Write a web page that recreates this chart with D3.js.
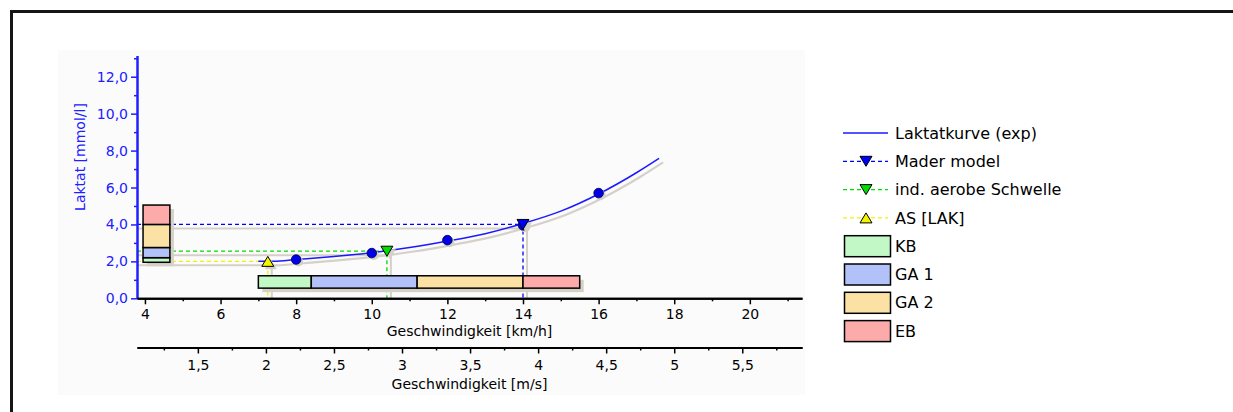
<!DOCTYPE html>
<html>
<head>
<meta charset="utf-8">
<script src="https://cdn.jsdelivr.net/npm/d3@7"></script>
<style>
  body { margin: 0; background: #fff; }
  svg { display: block; }
  text { font-family: "DejaVu Sans", sans-serif; }
</style>
</head>
<body>
<svg width="1233" height="412"></svg>
<script>
// measured lactate values (km/h, mmol/l)
var pointSpeed = [8, 10, 12, 14, 16];
var pointLactate = [2.1, 2.45, 3.15, 3.95, 5.7];

// fitted curve
var curveSpeed = [7.0, 7.4, 8, 9, 10, 11, 12, 13, 14, 15, 16, 17, 17.6];
var curveLactate = [2.0, 2.0, 2.1, 2.27, 2.47, 2.75, 3.1, 3.5, 4.05, 4.72, 5.65, 6.8, 7.58];

// thresholds
var thresholdNames = ["Mader model", "ind. aerobe Schwelle", "AS [LAK]"];
var thresholdSpeed = [14.0, 10.4, 7.25];
var thresholdLactate = [4.0, 2.55, 2.0];

// training zones
var zoneNames = ["KB", "GA 1", "GA 2", "EB"];
var zoneSpeedFrom = [7.0, 8.4, 11.2, 14.0];
var zoneSpeedTo = [8.4, 11.2, 14.0, 15.5];
var zoneLactateFrom = [1.95, 2.2, 2.75, 4.0];
var zoneLactateTo = [2.2, 2.75, 4.0, 5.05];

// ticks
var lactateTicks = [0, 2, 4, 6, 8, 10, 12];
var lactateMinor = [1, 3, 5, 7, 9, 11, 13];
var kmhTicks = [4, 6, 8, 10, 12, 14, 16, 18, 20];
var kmhMinor = [5, 7, 9, 11, 13, 15, 17, 19, 21];
var msTicks = [1.5, 2, 2.5, 3, 3.5, 4, 4.5, 5, 5.5];
var msMinor = [1.25, 1.75, 2.25, 2.75, 3.25, 3.75, 4.25, 4.75, 5.25, 5.75];

var zoneColors = ["#c2f8c6", "#b2c2f8", "#fce1a4", "#fcaaaa"];
var thresholdColors = ["#0000ff", "#00dd00", "#f4f400"];
var thresholdDown = [true, true, false];
var shadow = "#d5d1c9";

var svg = d3.select("svg");

// outer frame, only top and left edges are inside the picture
svg.append("path")
    .attr("d", "M11.5,412V11.5H1233")
    .attr("fill", "none")
    .attr("stroke", "#151515")
    .attr("stroke-width", 3);

svg.append("rect")
    .attr("x", 58).attr("y", 50)
    .attr("width", 747).attr("height", 345)
    .attr("fill", "#fbfbfb");

var x = d3.scaleLinear().domain([3.79, 21.38]).range([137, 802]);
var xms = d3.scaleLinear().domain([3.79 / 3.6, 21.38 / 3.6]).range([137, 802]);
var y = d3.scaleLinear().domain([0, 13.15]).range([298.3, 55.5]);

var loc = d3.formatLocale({decimal: ",", thousands: ".", grouping: [3], currency: ["", "€"]});
var f1 = loc.format(".1f");
var fms = function(d) { return String(d).replace(".", ","); };

var g = svg.append("g");

// threshold shadows + dashed lines
thresholdNames.forEach(function(name, i) {
  var sx = x(thresholdSpeed[i]), sy = y(thresholdLactate[i]);
  g.append("path")
      .attr("d", "M" + x.range()[0] + "," + (sy + 4) + "H" + (sx + 4) + "V" + y(0))
      .attr("fill", "none").attr("stroke", shadow).attr("stroke-width", 2);
});
thresholdNames.forEach(function(name, i) {
  var sx = x(thresholdSpeed[i]), sy = y(thresholdLactate[i]);
  g.append("path")
      .attr("d", "M" + x.range()[0] + "," + sy + "H" + sx + "V" + y(0))
      .attr("fill", "none")
      .attr("stroke", thresholdColors[i])
      .attr("stroke-width", 1.3)
      .attr("stroke-dasharray", "4,3");
});

// lactate curve with its shadow
var curveData = curveSpeed.map(function(s, i) { return [s, curveLactate[i]]; });
var line = d3.line()
    .x(function(d) { return x(d[0]); })
    .y(function(d) { return y(d[1]); })
    .curve(d3.curveMonotoneX);

g.append("path").datum(curveData)
    .attr("d", line)
    .attr("transform", "translate(4,4)")
    .attr("fill", "none").attr("stroke", shadow).attr("stroke-width", 2.2);
g.append("path").datum(curveData)
    .attr("d", line)
    .attr("fill", "none").attr("stroke", "#1a1aff").attr("stroke-width", 1.5);

// horizontal zone bar (speed)
var barTop = y(1.22), barBottom = y(0.55);
g.append("rect")
    .attr("x", x(zoneSpeedFrom[0]) + 4).attr("y", barTop + 4)
    .attr("width", x(zoneSpeedTo[3]) - x(zoneSpeedFrom[0]))
    .attr("height", barBottom - barTop)
    .attr("fill", shadow);
g.selectAll(".hzone")
    .data(zoneNames)
    .enter().append("rect")
      .attr("x", function(d, i) { return x(zoneSpeedFrom[i]); })
      .attr("y", barTop)
      .attr("width", function(d, i) { return x(zoneSpeedTo[i]) - x(zoneSpeedFrom[i]); })
      .attr("height", barBottom - barTop)
      .attr("fill", function(d, i) { return zoneColors[i]; })
      .attr("stroke", "#000").attr("stroke-width", 1.5);

// vertical zone bar (lactate)
var vbLeft = x(3.95), vbRight = x(4.66);
g.append("rect")
    .attr("x", vbLeft + 4).attr("y", y(zoneLactateTo[3]) + 4)
    .attr("width", vbRight - vbLeft)
    .attr("height", y(zoneLactateFrom[0]) - y(zoneLactateTo[3]))
    .attr("fill", shadow);
g.selectAll(".vzone")
    .data(zoneNames)
    .enter().append("rect")
      .attr("x", vbLeft)
      .attr("y", function(d, i) { return y(zoneLactateTo[i]); })
      .attr("width", vbRight - vbLeft)
      .attr("height", function(d, i) { return y(zoneLactateFrom[i]) - y(zoneLactateTo[i]); })
      .attr("fill", function(d, i) { return zoneColors[i]; })
      .attr("stroke", "#000").attr("stroke-width", 1.5);

// measured points
pointSpeed.forEach(function(s, i) {
  g.append("circle")
      .attr("cx", x(s) + 2).attr("cy", y(pointLactate[i]) + 2).attr("r", 5)
      .attr("fill", shadow);
});
g.selectAll(".pt")
    .data(pointSpeed)
    .enter().append("circle")
      .attr("cx", function(d) { return x(d); })
      .attr("cy", function(d, i) { return y(pointLactate[i]); })
      .attr("r", 4.8)
      .attr("fill", "#0000e6")
      .attr("stroke", "#000050").attr("stroke-width", 0.8);

function tri(down) {
  return down ? "M-6,-5L6,-5L0,5Z" : "M0,-5L6,5L-6,5Z";
}

// threshold markers
thresholdNames.forEach(function(name, i) {
  var sx = x(thresholdSpeed[i]), sy = y(thresholdLactate[i]);
  g.append("path").attr("d", tri(thresholdDown[i]))
      .attr("transform", "translate(" + (sx + 3) + "," + (sy + 3) + ")")
      .attr("fill", shadow);
  g.append("path").attr("d", tri(thresholdDown[i]))
      .attr("transform", "translate(" + sx + "," + sy + ")")
      .attr("fill", thresholdColors[i])
      .attr("stroke", "#000").attr("stroke-width", 1);
});

// axes
function styleAxis(sel, color) {
  sel.select(".domain").attr("stroke", color).attr("stroke-width", 2);
  sel.selectAll(".tick line").attr("stroke", color).attr("stroke-width", 1.5);
  sel.selectAll("text").attr("fill", color).attr("font-size", 14)
      .attr("font-family", "DejaVu Sans, sans-serif");
}

var yAxis = svg.append("g").attr("transform", "translate(137,0)")
    .call(d3.axisLeft(y).tickValues(lactateTicks).tickFormat(f1).tickSize(6).tickSizeOuter(0).tickPadding(3));
styleAxis(yAxis, "#2020ff");
var yMinor = svg.append("g").attr("transform", "translate(137,0)")
    .call(d3.axisLeft(y).tickValues(lactateMinor).tickFormat("").tickSize(3).tickSizeOuter(0));
styleAxis(yMinor, "#2020ff");

var xAxis = svg.append("g").attr("transform", "translate(0,298.3)")
    .call(d3.axisBottom(x).tickValues(kmhTicks).tickFormat(d3.format("d")).tickSize(6).tickSizeOuter(0).tickPadding(5));
styleAxis(xAxis, "#000");
var xMinor = svg.append("g").attr("transform", "translate(0,298.3)")
    .call(d3.axisBottom(x).tickValues(kmhMinor).tickFormat("").tickSize(3).tickSizeOuter(0));
styleAxis(xMinor, "#000");

var msAxis = svg.append("g").attr("transform", "translate(0,347.5)")
    .call(d3.axisBottom(xms).tickValues(msTicks).tickFormat(fms).tickSize(6).tickSizeOuter(0).tickPadding(7));
styleAxis(msAxis, "#000");
var msMinorAxis = svg.append("g").attr("transform", "translate(0,347.5)")
    .call(d3.axisBottom(xms).tickValues(msMinor).tickFormat("").tickSize(3).tickSizeOuter(0));
styleAxis(msMinorAxis, "#000");

// axis titles
svg.append("text")
    .attr("x", 469.5).attr("y", 331).attr("dy", "0.35em")
    .attr("text-anchor", "middle").attr("font-size", 14)
    .text("Geschwindigkeit [km/h]");
svg.append("text")
    .attr("x", 469.5).attr("y", 384).attr("dy", "0.35em")
    .attr("text-anchor", "middle").attr("font-size", 14)
    .text("Geschwindigkeit [m/s]");
svg.append("text")
    .attr("transform", "translate(80,157) rotate(-90)")
    .attr("dy", "0.35em")
    .attr("text-anchor", "middle").attr("font-size", 14)
    .attr("fill", "#2020ff")
    .text("Laktat [mmol/l]");

// legend
var legend = svg.append("g").attr("font-size", 16);
var rowY = function(i) { return 133 + i * 28.3; };

legend.append("line")
    .attr("x1", 843).attr("x2", 888).attr("y1", rowY(0)).attr("y2", rowY(0))
    .attr("stroke", "#1a1aff").attr("stroke-width", 1.5);
legend.append("text").attr("x", 895).attr("y", rowY(0)).attr("dy", "0.35em")
    .text("Laktatkurve (exp)");

thresholdNames.forEach(function(name, i) {
  var ry = rowY(i + 1);
  legend.append("line")
      .attr("x1", 843).attr("x2", 888).attr("y1", ry).attr("y2", ry)
      .attr("stroke", thresholdColors[i]).attr("stroke-width", 1.3)
      .attr("stroke-dasharray", "4,3");
  legend.append("path").attr("d", tri(thresholdDown[i]))
      .attr("transform", "translate(866," + ry + ")")
      .attr("fill", thresholdColors[i])
      .attr("stroke", "#000").attr("stroke-width", 1);
  legend.append("text").attr("x", 895).attr("y", ry).attr("dy", "0.35em")
      .text(name);
});

zoneNames.forEach(function(name, i) {
  var ry = rowY(i + 4);
  legend.append("rect")
      .attr("x", 844.5).attr("y", ry - 10.5)
      .attr("width", 46).attr("height", 21)
      .attr("fill", zoneColors[i])
      .attr("stroke", "#000").attr("stroke-width", 1.5);
  legend.append("text").attr("x", 895).attr("y", ry).attr("dy", "0.35em")
      .text(name);
});
</script>
</body>
</html>
